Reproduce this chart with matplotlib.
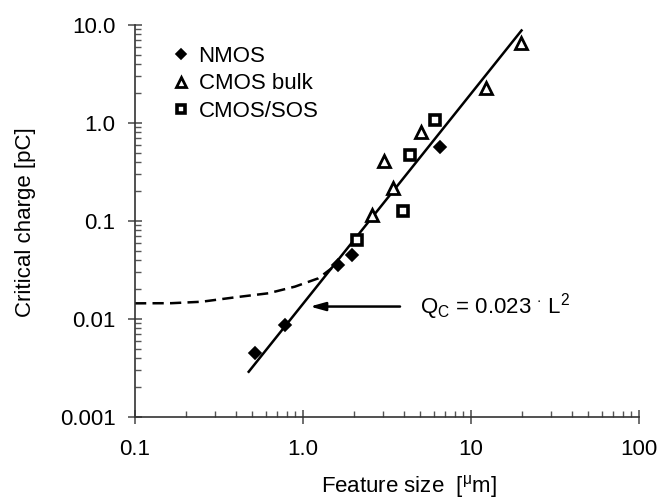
import matplotlib
matplotlib.use("Agg")
import matplotlib.pyplot as plt
from matplotlib.ticker import LogLocator, NullFormatter

plt.rcParams['font.family'] = ['Liberation Sans', 'DejaVu Sans']
plt.rcParams['mathtext.fontset'] = 'custom'
plt.rcParams['mathtext.rm'] = 'Liberation Sans'
plt.rcParams['mathtext.it'] = 'Liberation Sans'

# Measured critical charge vs. feature size
nmos_L = [0.52, 0.78, 1.62, 1.95, 6.53]
nmos_Q = [0.0045, 0.0087, 0.0356, 0.045, 0.573]

bulk_L = [2.56, 3.03, 3.45, 5.02, 12.3, 19.8]
bulk_Q = [0.115, 0.412, 0.216, 0.815, 2.26, 6.5]

sos_L = [2.11, 3.92, 4.33, 6.1]
sos_Q = [0.064, 0.127, 0.471, 1.07]

# Scaling trend line (end points)
fit_L = [0.47, 20.2]
fit_Q = [0.00283, 9.0]

# Saturation curve at small feature sizes
sat_L = [0.1, 0.165, 0.249, 0.394, 0.622, 0.896, 1.233, 1.48]
sat_Q = [0.01445, 0.0145, 0.0150, 0.01664, 0.0183, 0.0214, 0.026, 0.0329]

x_ticks = [0.1, 1, 10, 100]
x_labels = ["0.1", "1.0", "10", "100"]
y_ticks = [0.001, 0.01, 0.1, 1, 10]
y_labels = ["0.001", "0.01", "0.1", "1.0", "10.0"]

FS = 16

fig = plt.figure(figsize=(6.58, 5.0), dpi=100)
ax = fig.add_axes([135 / 658, 83 / 500, 504 / 658, 392 / 500])

ax.plot(fit_L, fit_Q, color='black', lw=1.8, solid_capstyle='butt')
ax.plot(sat_L, sat_Q, color='black', lw=1.8, linestyle=(0, (4.5, 2.5)))

ax.plot(nmos_L, nmos_Q, linestyle='none', marker='D', ms=6, mfc='black',
        mec='black', mew=1.2, label='NMOS')
ax.plot(bulk_L, bulk_Q, linestyle='none', marker='^', ms=9, mfc='white',
        mec='black', mew=2.0, label='CMOS bulk')
ax.plot(sos_L, sos_Q, linestyle='none', marker='s', ms=7.5, mfc='white',
        mec='black', mew=2.6, label='CMOS/SOS')

ax.set_xscale('log')
ax.set_yscale('log')
ax.set_xlim(0.1, 100)
ax.set_ylim(0.001, 10)

ax.set_xticks(x_ticks)
ax.set_xticklabels(x_labels)
ax.set_yticks(y_ticks)
ax.set_yticklabels(y_labels)
ax.xaxis.set_minor_locator(LogLocator(base=10, subs=range(2, 10)))
ax.yaxis.set_minor_locator(LogLocator(base=10, subs=range(2, 10)))
ax.xaxis.set_minor_formatter(NullFormatter())
ax.yaxis.set_minor_formatter(NullFormatter())

ax.tick_params(which='major', direction='inout', length=10, width=1.2,
               labelsize=FS, color='#555555')
ax.tick_params(axis='x', which='major', pad=11)
ax.tick_params(axis='y', which='major', pad=9)
ax.tick_params(which='minor', direction='in', length=4, width=1.0,
               color='#555555')

for side in ('top', 'right'):
    ax.spines[side].set_visible(False)
for side in ('left', 'bottom'):
    ax.spines[side].set_linewidth(1.2)
    ax.spines[side].set_color('#333333')

# Arrow pointing at the trend line, with its equation
ax.annotate('', xy=(1.10, 0.0134), xytext=(3.78, 0.0134),
            arrowprops=dict(arrowstyle='-|>,head_length=0.9,head_width=0.25',
                            color='black', lw=1.8, shrinkA=0, shrinkB=0))
ax.text(4.97, 0.0134, r'Q$_{\mathrm{C}}$ = 0.023 $^{\cdot}$ L$^{2}$',
        fontsize=FS, va='center', ha='left')

leg = ax.legend(loc='upper left', bbox_to_anchor=(0.06, 0.97), frameon=False,
                fontsize=FS, handlelength=0.6, handletextpad=0.5,
                labelspacing=0.3, borderaxespad=0, markerscale=0.8)

fig.text(409 / 658, 1 - 486 / 500, r'Feature size  [$^{\mathrm{μ}}$m]',
         fontsize=FS, ha='center', va='center')
fig.text(26 / 658, 1 - 222 / 500, 'Critical charge [pC]', fontsize=FS,
         rotation=90, ha='center', va='center')

fig.savefig('out.png', dpi=100)
